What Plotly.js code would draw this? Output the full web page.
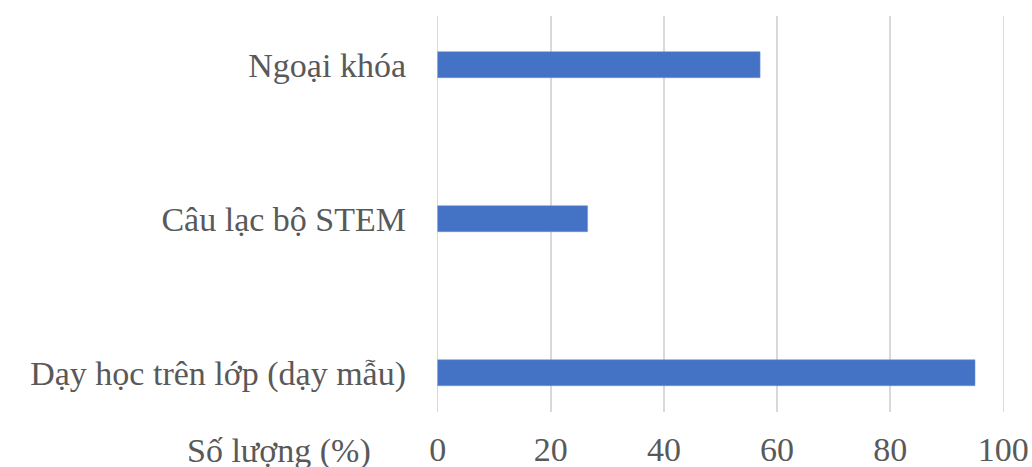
<!DOCTYPE html>
<html>
<head>
<meta charset="utf-8">
<script src="https://cdn.plot.ly/plotly-3.0.1.min.js"></script>
<style>html,body{margin:0;padding:0;background:#fff;}#chart{width:1032px;height:467px;}</style>
</head>
<body>
<div id="chart"></div>
<script>
const categories = ["Dạy học trên lớp (dạy mẫu)", "Câu lạc bộ STEM", "Ngoại khóa"];
const values = [95, 26.5, 57];
const xTicks = [0, 20, 40, 60, 80, 100];
const xAxisLabel = "Số lượng (%)";

const font = "'Liberation Serif', 'Times New Roman', serif";
const grey = "#595959";
const fs = 34;

Plotly.newPlot("chart", [{
  type: "bar",
  orientation: "h",
  y: categories,
  x: values,
  width: 0.169,
  marker: {color: "#4472C4", line: {color: "#6f93d3", width: 0.5}},
  hoverinfo: "none"
}], {
  width: 1032, height: 467,
  margin: {l: 436, r: 27, t: 16, b: 55, pad: 0},
  paper_bgcolor: "#fff", plot_bgcolor: "#fff",
  showlegend: false,
  font: {family: font, size: fs, color: grey},
  xaxis: {
    range: [-0.3, 100.3], tickvals: xTicks, ticktext: xTicks.map(String),
    showgrid: true, gridcolor: "#d9d9d9", gridwidth: 1.5,
    zeroline: false, showline: false, ticks: "",
    tickfont: {family: font, size: fs, color: grey},
    ticklabelstandoff: 14, fixedrange: true
  },
  yaxis: {
    type: "category", range: [-0.255, 2.316],
    showgrid: false, zeroline: false, showline: false, ticks: "",
    tickfont: {family: font, size: fs, color: grey},
    ticklabelstandoff: 29, fixedrange: true
  },
  annotations: [{
    text: xAxisLabel, xref: "paper", yref: "paper",
    x: (279 - 436) / 569, y: -0.0997, xanchor: "center", yanchor: "middle",
    showarrow: false, font: {family: font, size: fs, color: grey}
  }]
}, {displayModeBar: false, staticPlot: true});
</script>
</body>
</html>
